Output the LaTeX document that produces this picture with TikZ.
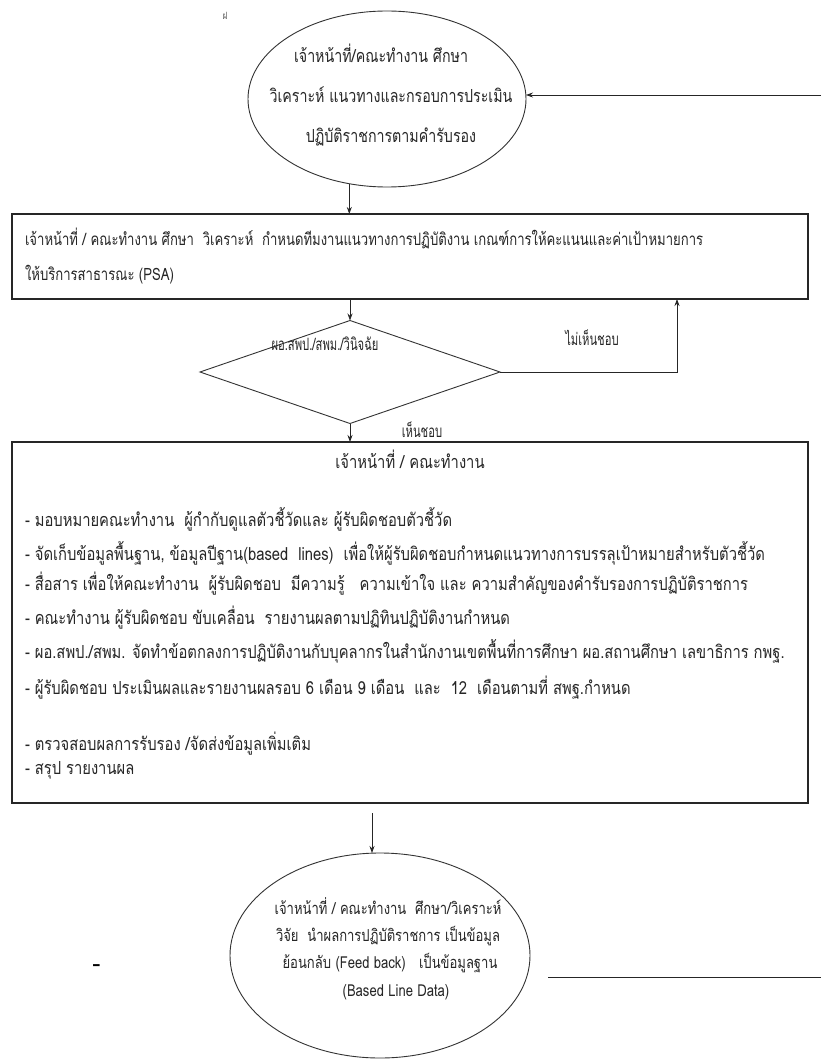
\documentclass[tikz,border=0pt]{standalone}
\usepackage{fontspec}
\newfontfamily\thf[Script=Thai,FakeStretch=0.82]{Loma}
\newfontfamily\thg[Script=Thai,FakeStretch=0.79]{Loma}
\newfontfamily\thb[Script=Thai,FakeStretch=0.77]{Loma}
\newfontfamily\thellip[Script=Thai,FakeStretch=0.79]{Loma}
\newfontfamily\thd[Script=Thai,FakeStretch=0.66]{Loma}
\usetikzlibrary{shapes.geometric,arrows.meta}
\begin{document}
\begin{tikzpicture}[x=1pt,y=-1pt,
  every node/.style={inner sep=0pt, outer sep=0pt},
  shp/.style={draw=black!80, line width=0.9pt},
  boxs/.style={rectangle, draw=black!85, line width=1.2pt},
  txt/.style={font=\thf\fontsize{18}{20}\selectfont, text=black!85},
  txtt/.style={font=\thg\fontsize{18}{20}\selectfont, text=black!85},
  txtb/.style={font=\thb\fontsize{17}{19}\selectfont, text=black!85},
  txte/.style={font=\thellip\fontsize{16.5}{18}\selectfont, text=black!85},
  txtd/.style={font=\thd\fontsize{17}{19}\selectfont, text=black!85},
  conn/.style={draw=black!85, line width=0.8pt},
  arr/.style={conn, -{Stealth[length=7pt,width=5pt]}},
]
\useasboundingbox[fill=white] (0,0) rectangle (821,1059);

% top ellipse
\node[ellipse, shp, minimum width=278pt, minimum height=176pt] (top) at (387,99) {};
\node[txtt, anchor=base] (t1) at (381,63) {เจ้าหน้าที่/คณะทำงาน ศึกษา};
\node[txtt, anchor=base] (t2) at (391,103) {วิเคราะห์ แนวทางและกรอบการประเมิน};
\node[txtt, anchor=base] (t3) at (391,143) {ปฏิบัติราชการตามคำรับรอง};
\node[font=\thf\fontsize{10}{10}\selectfont, text=black!65] (mark) at (225,16) {ฝ};

% box 1
\node[boxs, minimum width=796pt, minimum height=85pt] (box1) at (410,256.5) {};
\node[txtb, anchor=base west] (p1) at (25,245) {เจ้าหน้าที่ / คณะทำงาน ศึกษา \ วิเคราะห์ \ กำหนดทีมงานแนวทางการปฏิบัติงาน เกณฑ์การให้คะแนนและค่าเป้าหมายการ};
\node[txtb, anchor=base west] (p2) at (25,280) {ให้บริการสาธารณะ (PSA)};

% diamond
\node[diamond, shp, minimum width=300pt, minimum height=103pt] (dia) at (350,372) {};
\node[txtd, anchor=base] (dt) at (325,350) {ผอ.สพป./สพม./วินิจฉัย};
\node[txtd, anchor=base] (no) at (592,345) {ไม่เห็นชอบ};
\node[txtd, anchor=base] (yes) at (422,437) {เห็นชอบ};

% box 2
\node[boxs, minimum width=796pt, minimum height=361pt] (box2) at (410,622.5) {};
\node[txt, anchor=base] (h2) at (410,468) {เจ้าหน้าที่ / คณะทำงาน};
\node[txt, anchor=base west] (q1) at (25,526) {- มอบหมายคณะทำงาน \ ผู้กำกับดูแลตัวชี้วัดและ ผู้รับผิดชอบตัวชี้วัด};
\node[txt, anchor=base west] (q2) at (25,560) {- จัดเก็บข้อมูลพื้นฐาน, ข้อมูลปีฐาน(based \ lines) \ เพื่อให้ผู้รับผิดชอบกำหนดแนวทางการบรรลุเป้าหมายสำหรับตัวชี้วัด};
\node[txt, anchor=base west] (q3) at (25,590) {- สื่อสาร เพื่อให้คณะทำงาน \ ผู้รับผิดชอบ \ มีความรู้ \ \ ความเข้าใจ และ ความสำคัญของคำรับรองการปฏิบัติราชการ};
\node[txt, anchor=base west] (q4) at (25,624) {- คณะทำงาน ผู้รับผิดชอบ ขับเคลื่อน \ รายงานผลตามปฏิทินปฏิบัติงานกำหนด};
\node[txt, anchor=base west] (q5) at (25,658) {- ผอ.สพป./สพม. จัดทำข้อตกลงการปฏิบัติงานกับบุคลากรในสำนักงานเขตพื้นที่การศึกษา ผอ.สถานศึกษา เลขาธิการ กพฐ.};
\node[txt, anchor=base west] (q6) at (25,694) {- ผู้รับผิดชอบ ประเมินผลและรายงานผลรอบ 6 เดือน 9 เดือน \ และ \ 12 \ เดือนตามที่ สพฐ.กำหนด};
\node[txt, anchor=base west] (q7) at (25,750) {- ตรวจสอบผลการรับรอง /จัดส่งข้อมูลเพิ่มเติม};
\node[txt, anchor=base west] (q8) at (25,774) {- สรุป รายงานผล};

% bottom ellipse
\node[ellipse, shp, minimum width=300pt, minimum height=205pt] (bot) at (380,955.5) {};
\node[txte, anchor=base] (s1) at (388,914) {เจ้าหน้าที่ / คณะทำงาน \ ศึกษา/วิเคราะห์};
\node[txte, anchor=base] (s2) at (388,941) {วิจัย \ นำผลการปฏิบัติราชการ เป็นข้อมูล};
\node[txte, anchor=base] (s3) at (390,968) {ย้อนกลับ (Feed back) \ \ เป็นข้อมูลฐาน};
\node[txte, anchor=base] (s4) at (396,996) {(Based Line Data)};
\node[font=\bfseries\fontsize{22}{22}\selectfont] (dash) at (97,968) {-};

% connectors
\draw[arr] (top.246.7) -- (top.246.7 |- box1.north);
\draw[arr] (dia.north |- box1.south) -- (dia.north);
\coordinate (nr) at (677,372);
\draw[arr] (dia.east) -- (nr) -- (nr |- box1.south);
\draw[arr] (dia.south) -- (dia.south |- box2.north);
\coordinate (c4) at (372,813);
\draw[arr] (c4) -- (c4 |- bot.north);
\coordinate (fbin) at (821,95);
\draw[arr] (fbin) -- (fbin -| top.east);
\coordinate (fbs) at (548,977);
\coordinate (fbe) at (821,977);
\draw[conn] (fbs) -- (fbe);
\end{tikzpicture}
\end{document}
